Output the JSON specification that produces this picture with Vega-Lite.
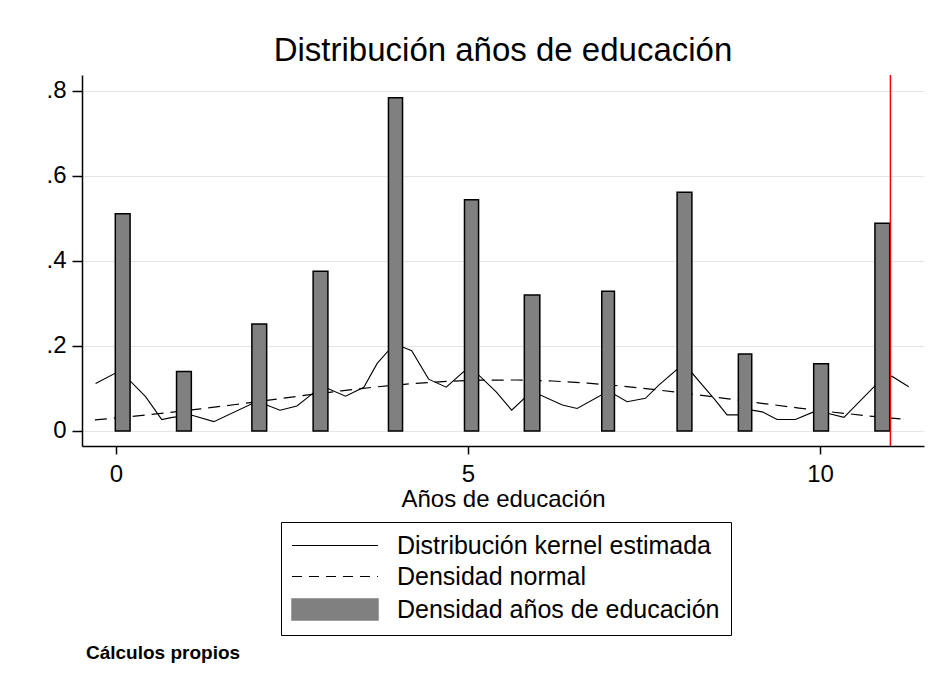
{
  "$schema": "https://vega.github.io/schema/vega-lite/v6.json",
  "autosize": {"type": "none"},
  "padding": {"left": 82, "top": 75, "right": 854, "bottom": 615},
  "background": "white",
  "title": {"text": "Cálculos propios", "orient": "bottom", "anchor": "start", "fontSize": 19, "fontWeight": "bold", "font": "Liberation Sans", "color": "black", "dx": 40, "offset": 8},
  "bounds": "flush",
  "datasets": {
    "bars": [
      {"x0": -0.01, "x1": 0.20, "d": 0.511},
      {"x0": 0.86, "x1": 1.07, "d": 0.140},
      {"x0": 1.93, "x1": 2.14, "d": 0.252},
      {"x0": 2.80, "x1": 3.01, "d": 0.376},
      {"x0": 3.87, "x1": 4.07, "d": 0.784},
      {"x0": 4.95, "x1": 5.15, "d": 0.544},
      {"x0": 5.80, "x1": 6.02, "d": 0.320},
      {"x0": 6.90, "x1": 7.08, "d": 0.329},
      {"x0": 7.97, "x1": 8.18, "d": 0.562},
      {"x0": 8.84, "x1": 9.03, "d": 0.181},
      {"x0": 9.91, "x1": 10.12, "d": 0.158},
      {"x0": 10.78, "x1": 10.99, "d": 0.489}
    ],
    "kernel": [
      {"x": -0.29, "y": 0.112}, {"x": 0.0, "y": 0.137}, {"x": 0.2, "y": 0.118}, {"x": 0.42, "y": 0.081},
      {"x": 0.65, "y": 0.027}, {"x": 0.80, "y": 0.032}, {"x": 1.08, "y": 0.037}, {"x": 1.39, "y": 0.022},
      {"x": 1.93, "y": 0.064}, {"x": 2.14, "y": 0.061}, {"x": 2.33, "y": 0.049}, {"x": 2.57, "y": 0.059},
      {"x": 2.80, "y": 0.089}, {"x": 3.01, "y": 0.100}, {"x": 3.26, "y": 0.082}, {"x": 3.52, "y": 0.103},
      {"x": 3.71, "y": 0.159}, {"x": 3.87, "y": 0.189}, {"x": 4.08, "y": 0.197}, {"x": 4.20, "y": 0.189},
      {"x": 4.44, "y": 0.122}, {"x": 4.69, "y": 0.103}, {"x": 4.94, "y": 0.140}, {"x": 5.15, "y": 0.132},
      {"x": 5.40, "y": 0.092}, {"x": 5.62, "y": 0.049}, {"x": 5.80, "y": 0.077}, {"x": 6.02, "y": 0.085},
      {"x": 6.34, "y": 0.061}, {"x": 6.55, "y": 0.053}, {"x": 6.90, "y": 0.085}, {"x": 7.09, "y": 0.085},
      {"x": 7.26, "y": 0.069}, {"x": 7.52, "y": 0.077}, {"x": 7.71, "y": 0.108}, {"x": 7.97, "y": 0.145},
      {"x": 8.18, "y": 0.137}, {"x": 8.50, "y": 0.075}, {"x": 8.68, "y": 0.038}, {"x": 8.84, "y": 0.038},
      {"x": 9.03, "y": 0.049}, {"x": 9.18, "y": 0.045}, {"x": 9.39, "y": 0.027}, {"x": 9.65, "y": 0.027},
      {"x": 9.91, "y": 0.045}, {"x": 10.12, "y": 0.041}, {"x": 10.34, "y": 0.032}, {"x": 10.79, "y": 0.108},
      {"x": 11.02, "y": 0.129}, {"x": 11.26, "y": 0.104}
    ],
    "normal": [
      {"x": -0.3, "y": 0.0261}, {"x": 0.2, "y": 0.0336}, {"x": 0.7, "y": 0.0423}, {"x": 1.2, "y": 0.0520},
      {"x": 1.7, "y": 0.0624}, {"x": 2.2, "y": 0.0733}, {"x": 2.7, "y": 0.0842}, {"x": 3.2, "y": 0.0946},
      {"x": 3.7, "y": 0.1038}, {"x": 4.2, "y": 0.1113}, {"x": 4.7, "y": 0.1168}, {"x": 5.2, "y": 0.1197},
      {"x": 5.7, "y": 0.1200}, {"x": 6.2, "y": 0.1176}, {"x": 6.7, "y": 0.1126}, {"x": 7.2, "y": 0.1054},
      {"x": 7.7, "y": 0.0965}, {"x": 8.2, "y": 0.0864}, {"x": 8.7, "y": 0.0755}, {"x": 9.2, "y": 0.0646},
      {"x": 9.7, "y": 0.0540}, {"x": 10.2, "y": 0.0441}, {"x": 10.7, "y": 0.0353}, {"x": 11.2, "y": 0.0275}
    ],
    "ref": [{"x": 11}]
  },
  "vconcat": [
    {
      "width": 842,
      "height": 371,
      "title": {"text": "Distribución años de educación", "anchor": "middle", "fontSize": 33, "fontWeight": "normal", "font": "Liberation Sans", "color": "black", "baseline": "alphabetic", "offset": 13, "dy": 33},
      "layer": [
        {
          "data": {"name": "normal"},
          "mark": {"type": "line", "strokeDash": [12, 7], "strokeWidth": 1.2},
          "encoding": {
            "x": {"field": "x", "type": "quantitative"},
            "y": {"field": "y", "type": "quantitative"},
            "color": {"datum": "Densidad normal"}
          }
        },
        {
          "data": {"name": "kernel"},
          "mark": {"type": "line", "strokeWidth": 1.1},
          "encoding": {
            "x": {"field": "x", "type": "quantitative"},
            "y": {"field": "y", "type": "quantitative"},
            "color": {"datum": "Distribución kernel estimada"}
          }
        },
        {
          "data": {"name": "bars"},
          "mark": {"type": "bar", "stroke": "black", "strokeWidth": 1.5, "opacity": 1},
          "encoding": {
            "x": {"field": "x0", "type": "quantitative"},
            "x2": {"field": "x1"},
            "y": {"field": "d", "type": "quantitative"},
            "y2": {"datum": 0},
            "color": {"datum": "Densidad años de educación"}
          }
        },
        {
          "data": {"name": "ref"},
          "mark": {"type": "rule", "color": "#ff0000", "strokeWidth": 1.5},
          "encoding": {
            "x": {"field": "x", "type": "quantitative"}
          }
        }
      ],
      "encoding": {
        "x": {
          "type": "quantitative",
          "scale": {"domain": [-0.483, 11.477], "nice": false, "zero": false},
          "axis": {"title": "Años de educación", "values": [0, 5, 10], "grid": false, "tickSize": 8, "labelPadding": 8, "titlePadding": 1, "labelFlush": false}
        },
        "y": {
          "type": "quantitative",
          "scale": {"domain": [-0.0353, 0.8376], "nice": false, "zero": false},
          "axis": {"title": null, "values": [0, 0.2, 0.4, 0.6, 0.8], "grid": true, "tickSize": 10, "labelPadding": 6, "labelFlush": false,
                   "labelExpr": "datum.value == 0 ? '0' : replace(format(datum.value, '.1f'), '0.', '.')"}
        },
        "color": {
          "scale": {"domain": ["Distribución kernel estimada", "Densidad normal", "Densidad años de educación"], "range": ["black", "black", "#808080"]},
          "legend": {
            "orient": "none", "legendX": 199, "legendY": 447, "title": null, "direction": "vertical",
            "strokeColor": "black", "fillColor": "white", "padding": 11,
            "labelFont": "Liberation Sans", "labelFontSize": 25, "labelColor": "black", "labelOffset": 19, "labelLimit": 600,
            "symbolSize": 7396, "symbolType": "stroke", "symbolStrokeWidth": 1.5, "symbolStrokeColor": "black", "rowPadding": 5,
            "encode": {
              "symbols": {
                "update": {
                  "x": {"value": 43},
                  "shape": {"signal": "datum.value === 'Densidad años de educación' ? 'M-1,-0.245H1V0.245H-1Z' : 'stroke'"},
                  "fill": {"signal": "datum.value === 'Densidad años de educación' ? '#808080' : 'transparent'"},
                  "fillOpacity": {"value": 1},
                  "stroke": {"value": "#000000"},
                  "strokeOpacity": {"value": 1},
                  "strokeDash": {"signal": "datum.value === 'Densidad normal' ? [10, 7] : null"},
                  "strokeWidth": {"signal": "datum.value === 'Densidad años de educación' ? 1.5 : 1"},
                  "opacity": {"value": 1}
                }
              },
              "labels": {
                "update": {
                  "x": {"value": 105}
                }
              }
            }
          }
        }
      }
    }
  ],
  "config": {
    "font": "Liberation Sans",
    "view": {"stroke": null},
    "axis": {
      "domainColor": "black", "domainWidth": 1.5, "tickColor": "black", "tickWidth": 1.5,
      "labelFont": "Liberation Sans", "labelFontSize": 24, "labelColor": "black",
      "titleFont": "Liberation Sans", "titleFontSize": 24, "titleColor": "black", "titleFontWeight": "normal",
      "gridColor": "#e8e4e4", "gridWidth": 1
    }
  }
}
